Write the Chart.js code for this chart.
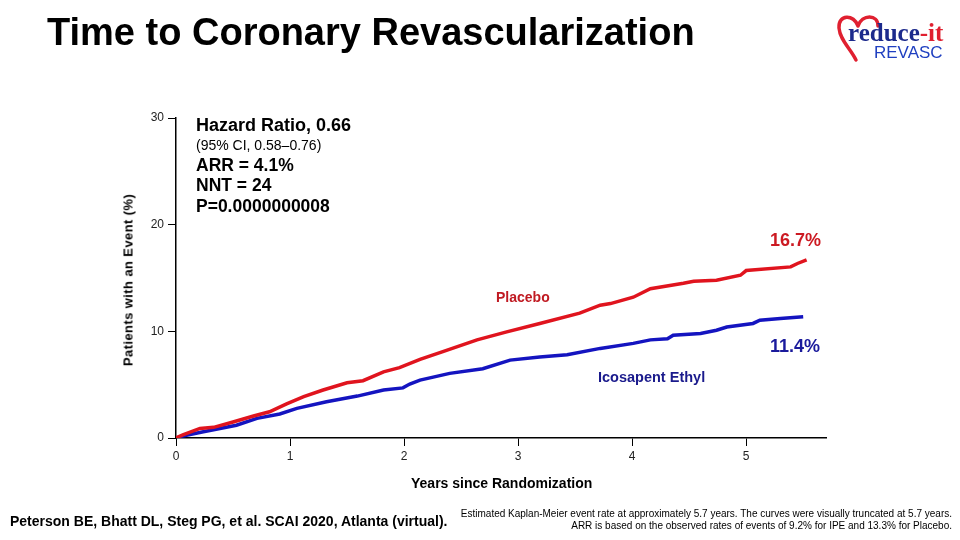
<!DOCTYPE html>
<html>
<head>
<meta charset="utf-8">
<script src="https://cdn.jsdelivr.net/npm/chart.js@4.4.1/dist/chart.umd.min.js"></script>
<style>
  html, body { margin: 0; padding: 0; background: #fff; }
  body { width: 960px; height: 540px; position: relative; overflow: hidden; font-family: "Liberation Sans", Arial, sans-serif; }
  #c { position: absolute; left: 0; top: 0; }
  .t { position: absolute; white-space: nowrap; line-height: 1; }
</style>
</head>
<body>
<canvas id="c" width="960" height="540"></canvas>

<div class="t" style="left:47px; top:13px; font-size:38px; font-weight:bold; color:#000;">Time to Coronary Revascularization</div>

<svg style="position:absolute; left:834px; top:12px;" width="50" height="52" viewBox="0 0 50 52">
  <path d="M24 14 C 20 2, 4 2, 5 16 C 6 28, 16 36, 22 48 M24 14 C 28 2, 44 2, 44 14" fill="none" stroke="#e02030" stroke-width="3.5" stroke-linecap="round"/>
</svg>
<div class="t" style="left:848px; top:20px; font-family:'Liberation Serif', serif; font-size:25px; font-weight:bold; color:#1c2a8c;">reduce<span style="color:#e02030;">-it</span></div>
<div class="t" style="left:874px; top:44px; font-size:17px; color:#1f3fc0;">REVASC</div>

<div class="t" style="left:196px; top:116px; font-size:18px; font-weight:bold; color:#000;">Hazard Ratio, 0.66</div>
<div class="t" style="left:196px; top:138px; font-size:14px; color:#000;">(95% CI, 0.58–0.76)</div>
<div class="t" style="left:196px; top:157px; font-size:17.5px; font-weight:bold; color:#000;">ARR = 4.1%</div>
<div class="t" style="left:196px; top:177px; font-size:17.5px; font-weight:bold; color:#000;">NNT = 24</div>
<div class="t" style="left:196px; top:198px; font-size:17.5px; font-weight:bold; color:#000;">P=0.0000000008</div>

<div class="t" style="left:770px; top:231px; font-size:18px; font-weight:bold; color:#cc1a22;">16.7%</div>
<div class="t" style="left:770px; top:337px; font-size:18px; font-weight:bold; color:#1a1a9c;">11.4%</div>
<div class="t" style="left:496px; top:290px; font-size:14px; font-weight:bold; color:#c01a22;">Placebo</div>
<div class="t" style="left:598px; top:370px; font-size:14.5px; font-weight:bold; color:#1a1a8c;">Icosapent Ethyl</div>

<div class="t" style="left:411px; top:476px; font-size:14px; font-weight:bold; color:#000;">Years since Randomization</div>
<div class="t" style="left:128px; top:280px; font-size:13px; font-weight:bold; letter-spacing:0.4px; color:#000; transform:translate(-50%,-50%) rotate(-90deg);">Patients with an Event (%)</div>

<div class="t" style="left:10px; top:514px; font-size:14px; font-weight:bold; color:#000;">Peterson BE, Bhatt DL, Steg PG, et al. SCAI 2020, Atlanta (virtual).</div>
<div class="t" style="right:8px; top:508px; font-size:10px; color:#000; text-align:right; line-height:12px;">Estimated Kaplan-Meier event rate at approximately 5.7 years. The curves were visually truncated at 5.7 years.<br>ARR is based on the observed rates of events of 9.2% for IPE and 13.3% for Placebo.</div>

<script>
// Years since randomization (x) and cumulative event % (y)
const placeboYears = [0, 0.06, 0.21, 0.33, 0.5, 0.68, 0.82, 0.97, 1.12, 1.29, 1.5, 1.64, 1.82, 1.96, 2.14, 2.34, 2.64, 2.9, 3.19, 3.54, 3.72, 3.81, 4.01, 4.16, 4.45, 4.54, 4.74, 4.95, 5.0, 5.39, 5.45, 5.53];
const placeboPct   = [0, 0.3, 0.9, 1.0, 1.5, 2.06, 2.46, 3.2, 3.87, 4.5, 5.18, 5.37, 6.2, 6.6, 7.37, 8.1, 9.2, 9.95, 10.74, 11.7, 12.45, 12.6, 13.2, 14.0, 14.5, 14.7, 14.8, 15.26, 15.7, 16.04, 16.36, 16.7];

const ipeYears = [0, 0.06, 0.24, 0.53, 0.71, 0.91, 1.06, 1.32, 1.59, 1.82, 1.99, 2.05, 2.14, 2.4, 2.69, 2.93, 3.19, 3.43, 3.72, 4.01, 4.16, 4.31, 4.36, 4.6, 4.74, 4.83, 5.06, 5.12, 5.3, 5.5];
const ipePct   = [0, 0.19, 0.59, 1.2, 1.84, 2.25, 2.78, 3.4, 3.93, 4.5, 4.7, 5.06, 5.43, 6.06, 6.5, 7.3, 7.6, 7.8, 8.4, 8.87, 9.2, 9.3, 9.64, 9.8, 10.1, 10.4, 10.74, 11.05, 11.2, 11.36];

const xTicks = [0, 1, 2, 3, 4, 5];
const yTicks = [0, 10, 20, 30];

const toPts = (xs, ys) => xs.map((x, i) => ({ x: x, y: ys[i] }));

new Chart(document.getElementById('c'), {
  type: 'line',
  data: {
    datasets: [
      { label: 'Placebo', data: toPts(placeboYears, placeboPct), borderColor: '#e0141e', borderWidth: 3.5, pointRadius: 0, tension: 0, fill: false },
      { label: 'Icosapent Ethyl', data: toPts(ipeYears, ipePct), borderColor: '#1414c0', borderWidth: 3.5, pointRadius: 0, tension: 0, fill: false }
    ]
  },
  options: {
    responsive: false,
    animation: false,
    devicePixelRatio: 1,
    layout: { padding: { left: 0, right: 134, top: 118, bottom: 0 } },
    plugins: { legend: { display: false }, tooltip: { enabled: false } },
    scales: {
      x: {
        type: 'linear', min: 0, max: 5.7,
        afterBuildTicks: s => { s.ticks = xTicks.map(v => ({ value: v })); },
        afterFit: s => { s.height = 102; },
        grid: { display: true, drawOnChartArea: false, drawTicks: true, tickLength: 8, color: '#000', lineWidth: 1 },
        border: { display: true, color: '#000', width: 1.5 },
        ticks: { color: '#222', font: { size: 12, family: 'Liberation Sans' }, padding: 3, maxRotation: 0 }
      },
      y: {
        type: 'linear', min: 0, max: 30,
        afterBuildTicks: s => { s.ticks = yTicks.map(v => ({ value: v })); },
        afterFit: s => { s.width = 176; },
        grid: { display: true, drawOnChartArea: false, drawTicks: true, tickLength: 8, color: '#000', lineWidth: 1 },
        border: { display: true, color: '#000', width: 1.5 },
        ticks: { color: '#222', font: { size: 12, family: 'Liberation Sans' }, padding: 4 }
      }
    }
  }
});
</script>
</body>
</html>
